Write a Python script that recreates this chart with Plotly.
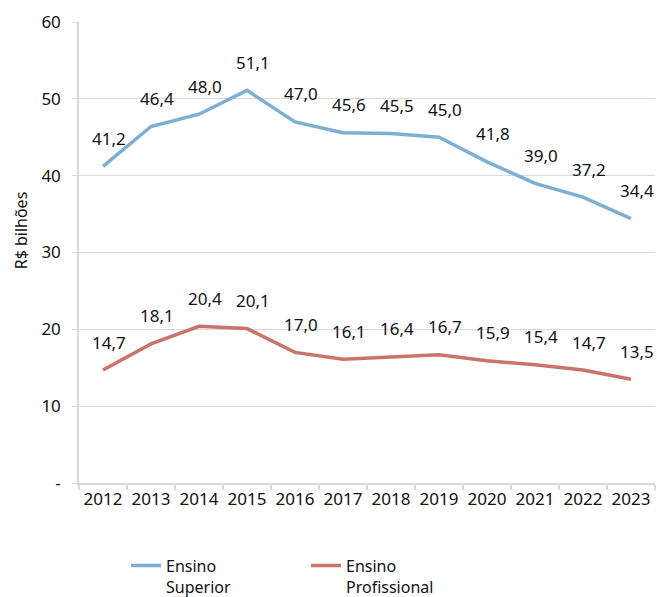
import plotly.graph_objects as go

anos = ["2012", "2013", "2014", "2015", "2016", "2017", "2018", "2019",
        "2020", "2021", "2022", "2023"]
ensino_superior = [41.2, 46.4, 48.0, 51.1, 47.0, 45.6, 45.5, 45.0, 41.8, 39.0, 37.2, 34.4]
ensino_profissional = [14.7, 18.1, 20.4, 20.1, 17.0, 16.1, 16.4, 16.7, 15.9, 15.4, 14.7, 13.5]

y_ticks = [0, 10, 20, 30, 40, 50, 60]
y_tick_text = ["-", "10", "20", "30", "40", "50", "60"]

AZUL = "#7bafd4"
VERMELHO = "#c9736b"
FONTE = "Noto Sans"

fig = go.Figure()
fig.add_trace(go.Scatter(x=anos, y=ensino_superior, mode="lines",
                         name="Ensino<br>Superior",
                         line=dict(color=AZUL, width=3.5)))
fig.add_trace(go.Scatter(x=anos, y=ensino_profissional, mode="lines",
                         name="Ensino<br>Profissional",
                         line=dict(color=VERMELHO, width=3.5)))


def fmt(v):
    return f"{v:.1f}".replace(".", ",")


# value labels above each point (category axis -> position by index)
for serie in (ensino_superior, ensino_profissional):
    for i, v in enumerate(serie):
        fig.add_annotation(x=i, y=v, text=fmt(v), showarrow=False,
                           xshift=6, yshift=28,
                           font=dict(family=FONTE, size=17, color="#111111"))

# axis title
fig.add_annotation(xref="paper", yref="paper", x=-0.1, y=0.549,
                   text="R$ bilhões", textangle=-90, showarrow=False,
                   xanchor="center", yanchor="middle",
                   font=dict(family=FONTE, size=16, color="#111111"))

fig.update_layout(
    width=657, height=597,
    margin=dict(l=79, r=2, t=22, b=114, autoexpand=False),
    plot_bgcolor="white", paper_bgcolor="white",
    font=dict(family=FONTE, size=17, color="#111111"),
    showlegend=True,
    legend=dict(orientation="h", x=0.0816, xref="paper",
                y=0.081, yref="container", xanchor="left", yanchor="top",
                valign="top", entrywidth=135, entrywidthmode="pixels",
                font=dict(family=FONTE, size=16, color="#111111"),
                itemwidth=30, tracegroupgap=0),
)
fig.update_xaxes(type="category", showgrid=False, showline=True,
                 linecolor="#d9d9d9", linewidth=1.5,
                 ticks="outside", tickson="boundaries", ticklen=5,
                 tickcolor="#d9d9d9", tickwidth=1.5, tickangle=0,
                 tickfont=dict(family=FONTE, size=17, color="#111111"),
                 range=[-0.5, 11.5])
fig.update_yaxes(range=[0, 60], tickvals=y_ticks, ticktext=y_tick_text,
                 showgrid=True, gridcolor="#d9d9d9", gridwidth=1,
                 showline=True, linecolor="#d9d9d9", linewidth=1.5,
                 ticks="outside", ticklen=5, tickcolor="#d9d9d9",
                 ticklabelstandoff=8, zeroline=False,
                 tickfont=dict(family=FONTE, size=17, color="#111111"))

fig.write_html("out.html")
